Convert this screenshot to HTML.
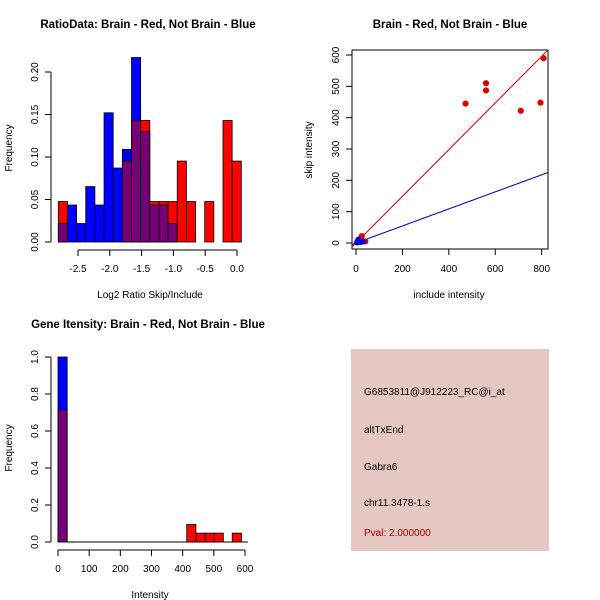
<!DOCTYPE html>
<html><head><meta charset="utf-8"><style>
html,body{margin:0;padding:0;background:#fff;}
svg{display:block;font-family:"Liberation Sans",Arial,sans-serif;}
</style></head><body>
<svg id="s" width="600" height="600" viewBox="0 0 600 600"></svg>
<script>
// Panel 1: ratio histogram
const ratioBinCount = 20;
const ratioRed  = [0.0476,0,0,0,0,0,0,0.0952,0.143,0.143,0.0476,0.0476,0.0476,0.0952,0.0476,0,0.0476,0,0.143,0.0952];
const ratioBlue = [0.0217,0.0435,0.0217,0.0652,0.0435,0.152,0.087,0.109,0.217,0.130,0.0435,0.0435,0.0217,0,0,0,0,0,0,0];
const ratioYTicks = [0,0.05,0.10,0.15,0.20];
const ratioYLabels = ["0.00","0.05","0.10","0.15","0.20"];
const ratioXTicks = [-2.5,-2.0,-1.5,-1.0,-0.5,0.0];
const ratioXLabels = ["-2.5","-2.0","-1.5","-1.0","-0.5","0.0"];
// Panel 2: scatter
const scatRed = [[472,445],[560,510],[560,487],[710,422],[795,448],[808,590],[25,22],[20,15],[40,5]];
const scatBlue = [[15,5],[10,10],[30,5],[20,3],[5,2]];
const redSlope = 0.745, blueSlope = 0.272;
const scatXTicks = [0,200,400,600,800];
const scatYTicks = [0,100,200,300,400,500,600];
// Panel 3: intensity histogram
const intRedStarts = [413,443,472,501,559];
const intRedVals = [0.095,0.048,0.048,0.048,0.048];
const intBinWidth = 29.5;
const intFirstRed = 0.714, intFirstBlue = 1.0;
const intXTicks = [0,100,200,300,400,500,600];
const intYTicks = [0,0.2,0.4,0.6,0.8,1.0];
const intYLabels = ["0.0","0.2","0.4","0.6","0.8","1.0"];

const S = document.getElementById('s');
const NS = 'http://www.w3.org/2000/svg';
function mk(tag, at, name, txt){
  const e = document.createElementNS(NS, tag);
  for (const k in at) e.setAttribute(k, at[k]);
  
  
  if (txt !== undefined) e.textContent = txt;
  S.appendChild(e); return e;
}
const RED='#ff0000', BLUE='#0000ff', PURP='#770077';
function title(x,y,t,n){mk('text',{x:x,y:y,'text-anchor':'middle','font-size':11.5,'font-weight':'bold'},n,t);}
function ylabel(x,y,t,n){mk('text',{x:x,y:y,'text-anchor':'middle','font-size':10,transform:`rotate(-90 ${x} ${y})`},n,t);}
function xlabel(x,y,t,n){mk('text',{x:x,y:y,'text-anchor':'middle','font-size':10},n,t);}

// ---------- Panel 1 ----------
(function(){
  const x0=58.3, bw=9.15, yb=242, ys=170/0.20;
  const ux = v => 237 + v*63.6;
  const uy = v => yb - v*ys;
  for (let i=0;i<ratioBinCount;i++){
    const r=ratioRed[i], b=ratioBlue[i], x=x0+i*bw;
    const hi=Math.max(r,b), lo=Math.min(r,b);
    if (hi>0) mk('rect',{x:x,y:uy(hi),width:bw,height:uy(0)-uy(hi),fill:r>b?RED:BLUE,stroke:'#000','stroke-width':0.8},'ratio-bar-'+i);
    if (lo>0) mk('rect',{x:x,y:uy(lo),width:bw,height:uy(0)-uy(lo),fill:PURP,stroke:'#000','stroke-width':0.8},'ratio-overlap-bar-'+i);
  }
  mk('line',{x1:51,y1:uy(0),x2:51,y2:uy(0.20),stroke:'#000'},'ratio-y-axis');
  ratioYTicks.forEach((v,i)=>{
    mk('line',{x1:45,y1:uy(v),x2:51,y2:uy(v),stroke:'#000'},'ratio-y-tick');
    const yy=uy(v);
    mk('text',{x:38,y:yy,'text-anchor':'middle','font-size':10,transform:`rotate(-90 38 ${yy})`},'ratio-y-tick-label',ratioYLabels[i]);
  });
  mk('line',{x1:ux(-2.5),y1:250,x2:ux(0),y2:250,stroke:'#000'},'ratio-x-axis');
  ratioXTicks.forEach((v,i)=>{
    mk('line',{x1:ux(v),y1:250,x2:ux(v),y2:256,stroke:'#000'},'ratio-x-tick');
    mk('text',{x:ux(v),y:272,'text-anchor':'middle','font-size':10},'ratio-x-tick-label',ratioXLabels[i]);
  });
  title(148,28,'RatioData: Brain - Red, Not Brain - Blue','ratio-title');
  xlabel(150,298,'Log2 Ratio Skip/Include','ratio-x-title');
  ylabel(12,148,'Frequency','ratio-y-title');
})();

// ---------- Panel 2 ----------
(function(){
  const L=352,R=548,T=50,B=249;
  const ux=v=>356+v*0.2321, uy=v=>243-v*0.3133;
  const xmax=(R-356)/0.2321, xmin=(L-356)/0.2321;
  mk('rect',{x:L,y:T,width:R-L,height:B-T,fill:'none',stroke:'#000'},'scatter-plot-box');
  mk('line',{x1:ux(xmin),y1:uy(xmin*redSlope),x2:ux(xmax),y2:uy(xmax*redSlope),stroke:'#cc0000'},'red-fit-line');
  mk('line',{x1:ux(xmin),y1:uy(xmin*blueSlope),x2:ux(xmax),y2:uy(xmax*blueSlope),stroke:'#0000cc'},'blue-fit-line');
  scatRed.forEach(p=>mk('circle',{cx:ux(p[0]),cy:uy(p[1]),r:3.1,fill:'#dd0000'},'red-point'));
  scatBlue.forEach(p=>mk('circle',{cx:ux(p[0]),cy:uy(p[1]),r:3.1,fill:'#0000dd'},'blue-point'));
  scatXTicks.forEach(v=>{
    mk('line',{x1:ux(v),y1:B,x2:ux(v),y2:B+6,stroke:'#000'},'scatter-x-tick');
    mk('text',{x:ux(v),y:272,'text-anchor':'middle','font-size':10},'scatter-x-tick-label',String(v));
  });
  scatYTicks.forEach(v=>{
    mk('line',{x1:L-6,y1:uy(v),x2:L,y2:uy(v),stroke:'#000'},'scatter-y-tick');
    const yy=uy(v);
    mk('text',{x:339,y:yy,'text-anchor':'middle','font-size':10,transform:`rotate(-90 339 ${yy})`},'scatter-y-tick-label',String(v));
  });
  title(450,28,'Brain - Red, Not Brain - Blue','scatter-title');
  xlabel(449,298,'include intensity','scatter-x-title');
  ylabel(312,150,'skip intensity','scatter-y-title');
})();

// ---------- Panel 3 ----------
(function(){
  const ux=v=>58+v*0.3117, uy=v=>542-v*185;
  const bw=intBinWidth*0.3117;
  mk('rect',{x:ux(0),y:uy(intFirstBlue),width:bw,height:uy(0)-uy(intFirstBlue),fill:BLUE,stroke:'#000','stroke-width':0.8},'intensity-bar-blue-0');
  mk('rect',{x:ux(0),y:uy(intFirstRed),width:bw,height:uy(0)-uy(intFirstRed),fill:PURP,stroke:'#000','stroke-width':0.8},'intensity-overlap-bar-0');
  mk('line',{x1:ux(0)+bw,y1:uy(0),x2:248,y2:uy(0),stroke:'#000'},'intensity-baseline');
  intRedStarts.forEach((s,i)=>{
    mk('rect',{x:ux(s),y:uy(intRedVals[i]),width:bw,height:uy(0)-uy(intRedVals[i]),fill:RED,stroke:'#000','stroke-width':0.8},'intensity-bar-red-'+i);
  });
  mk('line',{x1:51,y1:uy(0),x2:51,y2:uy(1),stroke:'#000'},'intensity-y-axis');
  intYTicks.forEach((v,i)=>{
    mk('line',{x1:45,y1:uy(v),x2:51,y2:uy(v),stroke:'#000'},'intensity-y-tick');
    const yy=uy(v);
    mk('text',{x:38,y:yy,'text-anchor':'middle','font-size':10,transform:`rotate(-90 38 ${yy})`},'intensity-y-tick-label',intYLabels[i]);
  });
  mk('line',{x1:ux(0),y1:550,x2:ux(600),y2:550,stroke:'#000'},'intensity-x-axis');
  intXTicks.forEach(v=>{
    mk('line',{x1:ux(v),y1:550,x2:ux(v),y2:556,stroke:'#000'},'intensity-x-tick');
    mk('text',{x:ux(v),y:572,'text-anchor':'middle','font-size':10},'intensity-x-tick-label',String(v));
  });
  title(148,328,'Gene Itensity: Brain - Red, Not Brain - Blue','intensity-title');
  xlabel(150,598,'Intensity','intensity-x-title');
  ylabel(12,448,'Frequency','intensity-y-title');
})();

// ---------- Panel 4 ----------
mk('rect',{x:351,y:349,width:198,height:202,fill:'#e6c8c2'},'info-panel');
[['G6853811@J912223_RC@i_at',395,'probe-id'],['altTxEnd',433,'event-type'],['Gabra6',470,'gene-name'],['chr11.3478-1.s',506,'location']].forEach(a=>{
  mk('text',{x:364,y:a[1],'font-size':10,fill:'#000'},a[2],a[0]);
});
mk('text',{x:364,y:536,'font-size':10,fill:'#aa0000'},'pval-text','Pval: 2.000000');
</script>
</body></html>
